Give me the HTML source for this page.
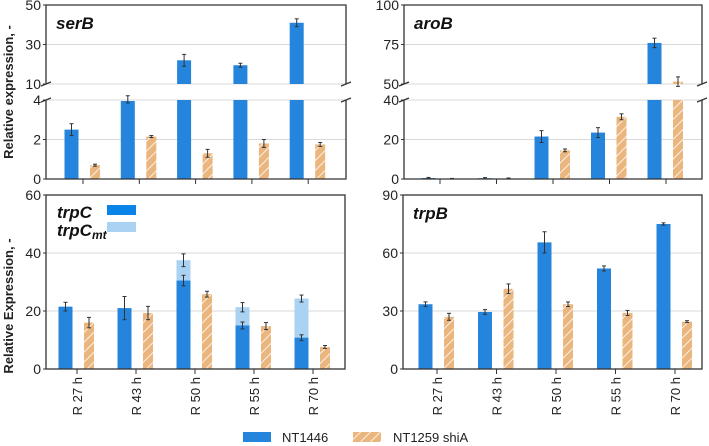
<!DOCTYPE html>
<html><head><meta charset="utf-8"><style>
body{margin:0;background:#fff;}
svg{display:block;font-family:"Liberation Sans",sans-serif;}
</style></head><body>
<svg id="c" width="709" height="446" viewBox="0 0 709 446">
<defs>
<pattern id="hatch" patternUnits="userSpaceOnUse" width="7" height="7" patternTransform="rotate(45)">
<rect width="7" height="7" fill="#ebb57e"/><line x1="0" y1="0" x2="0" y2="7" stroke="#fff" stroke-width="1.6"/>
</pattern>
</defs>
</svg>
<script>
const categories=["R 27 h","R 43 h","R 50 h","R 55 h","R 70 h"];
const serB_ref=[2.5,3.95,22,19.5,41];
const serB_refErr=[0.3,0.1,3,1,2];
const serB_mut=[0.7,2.15,1.3,1.8,1.75];
const serB_mutErr=[0.05,0.05,0.2,0.2,0.1];
const aroB_ref=[0.5,0.4,21.5,23.5,76];
const aroB_refErr=[0.3,0.3,3,2.5,3];
const aroB_mut=[0.2,0.3,14.5,31.5,51.5];
const aroB_mutErr=[0.1,0.2,0.7,1.5,3];
const trpC_ref=[21.5,21,30.5,15,10.8];
const trpC_refErr=[1.5,4,1.8,1.2,1];
const trpCmt_total=[0,0,37.5,21.3,24.3];
const trpCmt_err=[0,0,2.2,1.6,1.2];
const trpC_mut=[16,19.3,25.8,14.8,7.6];
const trpC_mutErr=[1.8,2.3,1,1.2,0.5];
const trpB_ref=[33.5,29.5,65.5,52,75];
const trpB_refErr=[1.2,1.2,5.5,1.3,0.6];
const trpB_mut=[27,41.5,33.5,29,24.5];
const trpB_mutErr=[1.8,2.5,1.2,1.3,0.5];
const serB_ticksLow=[0,2,4], serB_ticksHigh=[10,30,50];
const aroB_ticksLow=[0,20,40], aroB_ticksHigh=[50,75,100];
const trpC_ticks=[0,20,40,60], trpB_ticks=[0,30,60,90];

const svg=document.getElementById('c');
const NS="http://www.w3.org/2000/svg";
function el(t,a,p){const e=document.createElementNS(NS,t);for(const k in a)e.setAttribute(k,a[k]);(p||svg).appendChild(e);return e;}
function txt(s,a,p){const e=el('text',a,p);e.textContent=s;return e;}
const BLUE="#2585dc", LIGHT="#a9d2f3";

function xs(x0,step){return i=>x0+i*step;}
// segments: [{v0,v1,y0,y1}] y0=bottom pixel for v0
function mkScale(segs){return v=>{for(const s of segs){if(v<=s.v1||s===segs[segs.length-1]){const vv=Math.min(v,s.v1);return s.y0-(vv-s.v0)/(s.v1-s.v0)*(s.y0-s.y1);}}};}

function panel(opt){
  const g=el('g',{});
  
  
  const L=opt.left,R=opt.right;
  // gridlines & tick labels
  opt.segs.forEach((s,si)=>{
    const sc=v=>s.y0-(v-s.v0)/(s.v1-s.v0)*(s.y0-s.y1);
    s.ticks.forEach(t=>{
      const y=sc(t);
      if(t!==s.v0||si>0&&false) {}
      el('line',{x1:L,x2:R,y1:y,y2:y,stroke:'#d9d9d9','stroke-width':1},g);
      const lb=txt(String(t),{x:L-5,y:y+5,'text-anchor':'end','font-size':14,fill:'#222'},g);
      
      
      el('line',{x1:L-3,x2:L,y1:y,y2:y,stroke:'#333'},g);
    });
  });
  const X=xs(opt.x0,opt.step);
  const segs=opt.segs;
  function barSeg(cx,w,v,fill,name){
    segs.forEach(s=>{
      if(v<=s.v0)return;
      const top=Math.min(v,s.v1);
      const sc=u=>s.y0-(u-s.v0)/(s.v1-s.v0)*(s.y0-s.y1);
      const r=el('rect',{x:cx-w/2,y:sc(top),width:w,height:sc(s.v0)-sc(top),fill:fill},g);
      
      
    });
  }
  const S=mkScale(segs);
  function err(cx,v,e){
    if(v<=0)return;
    const a=S(v-e),b=S(v+e);
    el('line',{x1:cx,x2:cx,y1:a,y2:b,stroke:'#333','stroke-width':1},g);
    el('line',{x1:cx-2,x2:cx+2,y1:a,y2:a,stroke:'#333'},g);
    el('line',{x1:cx-2,x2:cx+2,y1:b,y2:b,stroke:'#333'},g);
  }
  categories.forEach((c,i)=>{
    const bx=X(i)-11.5, ox=X(i)+12;
    if(opt.mt&&opt.mt[i]>0){barSeg(bx,14,opt.mt[i],LIGHT,'bar-mt-'+i);}
    barSeg(bx,14,opt.ref[i],BLUE,'bar-nt1446-'+i);
    barSeg(ox,10,opt.mut[i],'url(#hatch)','bar-nt1259-'+i);
    if(opt.mt&&opt.mt[i]>0)err(bx,opt.mt[i],opt.mtErr[i]);
    err(bx,opt.ref[i],opt.refErr[i]);
    err(ox,opt.mut[i],opt.mutErr[i]);
    const bottom=segs[0].y0;
    el('line',{x1:X(i),x2:X(i),y1:bottom,y2:bottom+5,stroke:'#333'},g);
    if(opt.labels){
      const t=txt(c,{x:0,y:0,'font-size':13,fill:'#222','text-anchor':'end',transform:`translate(${X(i)+5},${bottom+8}) rotate(-90)`},g);
      
      
    }
  });
  // frame
  if(segs.length===1){
    el('rect',{x:L,y:segs[0].y1,width:R-L,height:segs[0].y0-segs[0].y1,fill:'none',stroke:'#333','stroke-width':1.3},g);
  } else {
    const lo=segs[0],hi=segs[1];
    el('path',{d:`M${L},${hi.y0} L${L},${hi.y1} L${R},${hi.y1} L${R},${hi.y0}`,fill:'none',stroke:'#333','stroke-width':1.3},g);
    el('path',{d:`M${L},${lo.y1} L${L},${lo.y0} L${R},${lo.y0} L${R},${lo.y1}`,fill:'none',stroke:'#333','stroke-width':1.3},g);
    [L,R].forEach(x=>{
      el('line',{x1:x-5,x2:x+5,y1:hi.y0+2,y2:hi.y0-2,stroke:'#333','stroke-width':1.3},g);
      el('line',{x1:x-5,x2:x+5,y1:lo.y1+2,y2:lo.y1-2,stroke:'#333','stroke-width':1.3},g);
    });
  }
  const gt=txt(opt.title,{x:L+10,y:segs[segs.length-1].y1+24,'font-size':17,'font-weight':'bold','font-style':'italic',fill:'#111'},g);
  
  
  return g;
}

panel({name:'serB-panel',title:'serB',left:46,right:346,x0:83,step:56.3,
  segs:[{v0:0,v1:4,y0:179,y1:100,ticks:serB_ticksLow},{v0:10,v1:50,y0:84,y1:5,ticks:serB_ticksHigh}],
  ref:serB_ref,refErr:serB_refErr,mut:serB_mut,mutErr:serB_mutErr});
panel({name:'aroB-panel',title:'aroB',left:404,right:702,x0:440,step:56.5,
  segs:[{v0:0,v1:40,y0:179,y1:100,ticks:aroB_ticksLow},{v0:50,v1:100,y0:84,y1:5,ticks:aroB_ticksHigh}],
  ref:aroB_ref,refErr:aroB_refErr,mut:aroB_mut,mutErr:aroB_mutErr});
const pc=panel({name:'trpC-panel',title:'',left:46,right:345,x0:77,step:59,labels:true,
  segs:[{v0:0,v1:60,y0:369,y1:195,ticks:trpC_ticks}],
  ref:trpC_ref,refErr:trpC_refErr,mut:trpC_mut,mutErr:trpC_mutErr,mt:trpCmt_total,mtErr:trpCmt_err});
panel({name:'trpB-panel',title:'trpB',left:403,right:702,x0:437,step:59.5,labels:true,
  segs:[{v0:0,v1:90,y0:369,y1:195,ticks:trpB_ticks}],
  ref:trpB_ref,refErr:trpB_refErr,mut:trpB_mut,mutErr:trpB_mutErr});
</script>
<svg width="0" height="0"></svg>
<script>
(function(){
const svg=document.getElementById('c');const NS="http://www.w3.org/2000/svg";
function el(t,a){const e=document.createElementNS(NS,t);for(const k in a)e.setAttribute(k,a[k]);svg.appendChild(e);return e;}
function txt(s,a){const e=el('text',a);e.textContent=s;return e;}
let t;
t=txt('trpC',{x:57,y:218,'font-size':17,'font-weight':'bold','font-style':'italic',fill:'#111'});

t=el('text',{x:57,y:236,'font-size':17,'font-weight':'bold','font-style':'italic',fill:'#111'});
t.innerHTML='trpC<tspan font-size="12" dy="3">mt</tspan>';

t=el('rect',{x:107,y:205,width:29,height:10,fill:'#0a84e8'});

t=el('rect',{x:107,y:222,width:29,height:10,fill:'#a9d2f3'});

t=txt('Relative expression, -',{x:0,y:0,'font-size':13,'font-weight':'bold',fill:'#222','text-anchor':'middle',transform:'translate(13,92) rotate(-90)'});

t=txt('Relative Expression, -',{x:0,y:0,'font-size':13,'font-weight':'bold',fill:'#222','text-anchor':'middle',transform:'translate(13,306) rotate(-90)'});

t=el('rect',{x:243,y:432,width:28,height:10,fill:'#2585dc'});

t=txt('NT1446',{x:282,y:442,'font-size':13,fill:'#222'});

t=el('rect',{x:353,y:432,width:28,height:10,fill:'url(#hatch)'});

t=txt('NT1259 shiA',{x:393,y:442,'font-size':13,fill:'#222'});

})();
</script>
</body></html>
